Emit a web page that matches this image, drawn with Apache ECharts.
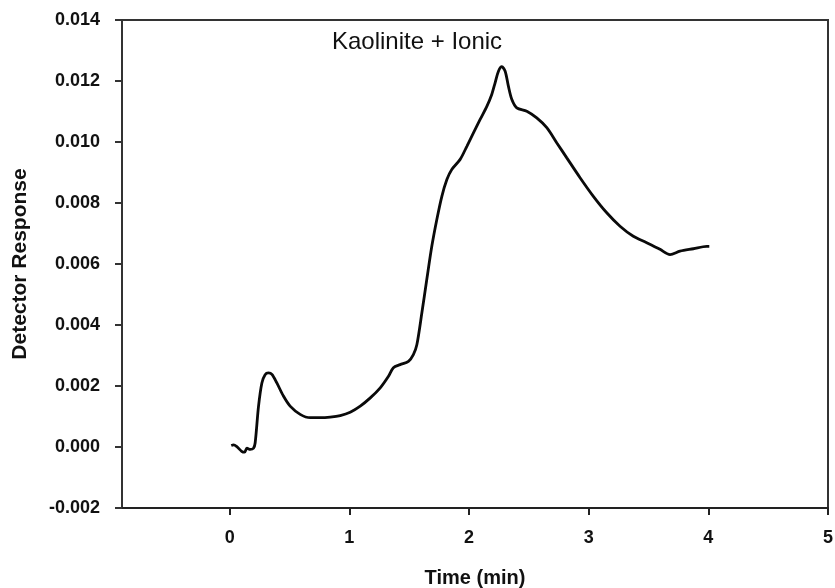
<!DOCTYPE html>
<html>
<head>
<meta charset="utf-8">
<title>Kaolinite + Ionic</title>
<script src="https://cdn.jsdelivr.net/npm/echarts@6/dist/echarts.min.js"></script>
<style>
  html, body { margin: 0; padding: 0; background: #ffffff; }
  #chart { width: 835px; height: 588px; }
</style>
</head>
<body>
<div id="chart"></div>
<script>
// Detector trace: elution time (min) and detector response
const timeMin = [
  0.013, 0.032, 0.060, 0.100, 0.124, 0.144, 0.171, 0.199, 0.213, 0.241,
  0.269, 0.297, 0.324, 0.353, 0.394, 0.449, 0.505, 0.589, 0.673, 0.757,
  0.840, 0.924, 1.007, 1.091, 1.175, 1.258, 1.327, 1.368, 1.424, 1.494,
  1.535, 1.564, 1.606, 1.647, 1.689, 1.731, 1.773, 1.815, 1.856, 1.926,
  1.982, 2.037, 2.093, 2.149, 2.190, 2.218, 2.246, 2.274, 2.302, 2.329,
  2.358, 2.399, 2.483, 2.566, 2.650, 2.734, 2.817, 2.928, 3.039, 3.151,
  3.262, 3.373, 3.485, 3.596, 3.680, 3.763, 3.875, 3.987, 4.008
];
const response = [
  0.00005, 0.00007, 0.00001, -0.00014, -0.00017, -0.00004, -0.00008, -0.00004, 0.00014, 0.00134,
  0.00210, 0.00238, 0.00243, 0.00238, 0.00210, 0.00167, 0.00134, 0.00107, 0.00096, 0.00096,
  0.00098, 0.00103, 0.00114, 0.00134, 0.00161, 0.00194, 0.00232, 0.00260, 0.00270, 0.00281,
  0.00303, 0.00335, 0.00440, 0.00549, 0.00658, 0.00746, 0.00822, 0.00877, 0.00910, 0.00943,
  0.00986, 0.01030, 0.01074, 0.01117, 0.01156, 0.01194, 0.01232, 0.01247, 0.01232, 0.01183,
  0.01139, 0.01112, 0.01101, 0.01079, 0.01047, 0.00997, 0.00948, 0.00883, 0.00822, 0.00768,
  0.00724, 0.00691, 0.00670, 0.00648, 0.00631, 0.00642, 0.00650, 0.00658, 0.00658
];
const xTicks = [0, 1, 2, 3, 4, 5];
const yTicks = { min: -0.002, max: 0.014, step: 0.002 };

const points = timeMin.map((t, i) => [t, response[i]]);

const chart = echarts.init(document.getElementById('chart'), null, { renderer: 'canvas' });
const font = 'Liberation Sans, Arial, Helvetica, sans-serif';

chart.setOption({
  backgroundColor: '#ffffff',
  animation: false,
  grid: {
    left: 122, right: 7, top: 20, bottom: 80,
    containLabel: false,
    outerBoundsMode: 'none',
    show: true, borderColor: '#333', borderWidth: 2, backgroundColor: 'transparent'
  },
  graphic: [{
    type: 'text',
    left: 332, top: 30,
    style: { text: 'Kaolinite + Ionic', font: '24px ' + font, fill: '#111' }
  }],
  xAxis: {
    type: 'value',
    min: -0.9, max: 5,
    name: 'Time (min)',
    nameLocation: 'middle',
    nameGap: 60,
    nameTextStyle: { fontFamily: font, fontSize: 20, fontWeight: 'bold', color: '#111' },
    axisLine: { show: true, onZero: false, lineStyle: { color: '#222', width: 2 } },
    axisTick: { show: true, inside: false, length: 7, customValues: xTicks, lineStyle: { color: '#222', width: 2 } },
    axisLabel: {
      customValues: xTicks, margin: 21,
      fontFamily: font, fontSize: 18, fontWeight: 'bold', color: '#111',
      formatter: v => String(Math.round(v))
    },
    splitLine: { show: false }
  },
  yAxis: {
    type: 'value',
    min: yTicks.min, max: yTicks.max, interval: yTicks.step,
    name: 'Detector Response',
    nameLocation: 'middle',
    nameGap: 91,
    nameRotate: 90,
    nameTextStyle: { fontFamily: font, fontSize: 21, fontWeight: 'bold', color: '#111' },
    axisLine: { show: true, onZero: false, lineStyle: { color: '#333', width: 2 } },
    axisTick: { show: true, inside: false, length: 7, lineStyle: { color: '#333', width: 2 } },
    axisLabel: {
      margin: 22,
      fontFamily: font, fontSize: 18, fontWeight: 'bold', color: '#111',
      formatter: v => v.toFixed(3)
    },
    splitLine: { show: false }
  },
  series: [{
    type: 'line',
    data: points,
    showSymbol: false,
    smooth: 0.3,
    lineStyle: { color: '#0a0a0a', width: 2.8 },
    z: 3
  }]
});
</script>
</body>
</html>
